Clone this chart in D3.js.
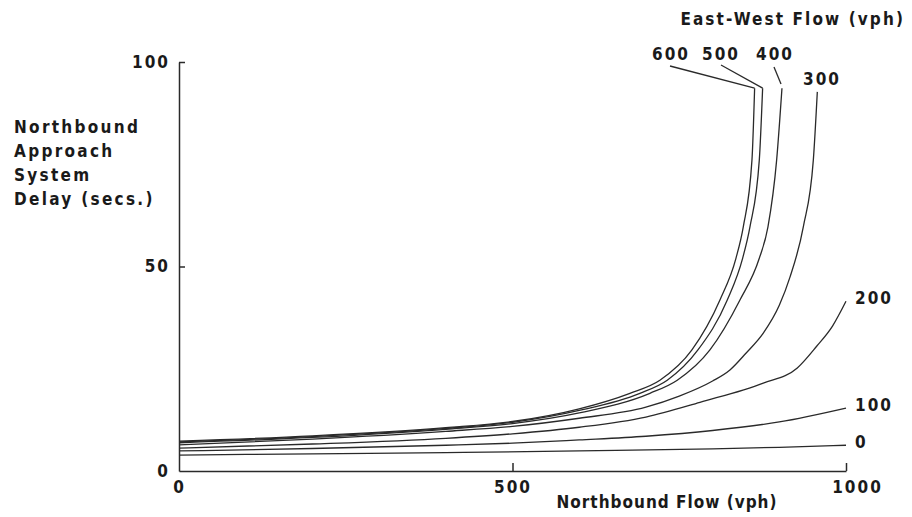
<!DOCTYPE html>
<html>
<head>
<meta charset="utf-8">
<script src="https://cdn.jsdelivr.net/npm/d3@7"></script>
<style>
  body { margin: 0; background: #fff; }
  text { font-family: "DejaVu Sans Condensed", "DejaVu Sans", sans-serif; font-weight: bold; fill: #1a1a1a; }
</style>
</head>
<body>
<svg id="chart" width="912" height="517"></svg>
<script>
// east-west flow series (vph) and their curves
let ewFlows = [0, 100, 200, 300, 400, 500, 600]

let nbFlow0 = [0, 200, 400, 600, 800, 900, 1000]
let delay0 = [3.9, 4.2, 4.5, 4.9, 5.4, 5.8, 6.3]

let nbFlow100 = [0, 200, 400, 500, 600, 700, 800, 900, 1000]
let delay100 = [4.9, 5.5, 6.3, 6.8, 7.6, 8.5, 9.9, 12.0, 15.4]

let nbFlow200 = [0, 200, 400, 500, 600, 700, 781, 876, 927, 956, 980, 1000]
let delay200 = [5.6, 6.6, 8.0, 9.1, 10.7, 13.2, 16.8, 21.5, 25.2, 30.5, 35.5, 41.5]

let nbFlow300 = [0, 200, 400, 500, 600, 700, 750, 800, 826, 850, 876, 900, 916, 936, 951, 957]
let delay300 = [6.4, 7.8, 9.7, 10.9, 12.9, 15.6, 18.3, 22.0, 24.7, 28.8, 33.7, 40.5, 47.4, 59.7, 76, 92.7]

let nbFlow400 = [0, 200, 400, 500, 600, 706, 747, 796, 841, 870, 883, 896, 904]
let delay400 = [6.9, 8.2, 10.2, 11.6, 14.2, 19, 22.2, 29.6, 41.8, 52, 59.7, 76, 93.6]

let nbFlow500 = [0, 200, 400, 500, 600, 691, 732, 778, 822, 845, 856, 870, 875]
let delay500 = [7.1, 8.4, 10.4, 11.9, 14.8, 19, 22.2, 29.6, 41.8, 52, 59.7, 76, 93.6]

let nbFlow600 = [0, 200, 400, 500, 600, 676, 721, 769, 811, 835, 846, 859, 863]
let delay600 = [7.3, 8.6, 10.6, 12.1, 15.2, 19, 22.2, 29.6, 41.8, 52, 59.7, 76, 93.6]

let xTicks = [0, 500, 1000]
let yTicks = [0, 50, 100]

let flows = [nbFlow0, nbFlow100, nbFlow200, nbFlow300, nbFlow400, nbFlow500, nbFlow600]
let delays = [delay0, delay100, delay200, delay300, delay400, delay500, delay600]

let svg = d3.select('#chart')

let x = d3.scaleLinear().domain([0, 1000]).range([179, 846])
let y = d3.scaleLinear().domain([0, 100]).range([471, 62])

let line = d3.line()
  .x(d => x(d[0]))
  .y(d => y(d[1]))
  .curve(d3.curveMonotoneX)

let series = ewFlows.map((ew, i) => ({
  ew: ew,
  points: flows[i].map((f, j) => [f, delays[i][j]])
}))

svg.selectAll('path.curve')
  .data(series)
  .enter().append('path')
  .attr('class', 'curve')
  .attr('d', s => line(s.points))
  .attr('fill', 'none')
  .attr('stroke', '#2a2a2a')
  .attr('stroke-width', 1.3)

// axes, ticks point inward like the original
let xAxis = svg.append('g')
  .attr('transform', 'translate(0,' + y(0) + ')')
  .call(d3.axisBottom(x).tickValues(xTicks).tickFormat(d3.format('d'))
    .tickSizeInner(-8).tickSizeOuter(0).tickPadding(10))
let yAxis = svg.append('g')
  .attr('transform', 'translate(' + x(0) + ',0)')
  .call(d3.axisLeft(y).tickValues(yTicks).tickFormat(d3.format('d'))
    .tickSizeInner(-6).tickSizeOuter(0).tickPadding(9))

for (let g of [xAxis, yAxis]) {
  g.attr('font-family', null).attr('font-size', null)
  g.selectAll('path, line').attr('stroke', '#2a2a2a').attr('stroke-width', 1.5)
  g.selectAll('text').attr('font-size', 17).attr('letter-spacing', 2).attr('fill', '#1a1a1a')
}
yAxis.selectAll('.tick').filter(d => d === 0).select('line').remove()
xAxis.selectAll('.tick').filter(d => d === 0).select('line').remove()
xAxis.selectAll('.tick').filter(d => d === 1000).select('text').attr('dx', 11)

// axis titles
svg.append('text')
  .attr('x', 667).attr('y', 508)
  .attr('text-anchor', 'middle')
  .attr('font-size', 17)
  .attr('letter-spacing', 1)
  .text('Northbound Flow (vph)')

svg.append('text')
  .attr('x', 905).attr('y', 25)
  .attr('text-anchor', 'end')
  .attr('font-size', 17)
  .attr('letter-spacing', 2.1)
  .text('East-West Flow (vph)')

let yTitle = ['Northbound', 'Approach', 'System', 'Delay (secs.)']
svg.selectAll('text.ytitle')
  .data(yTitle)
  .enter().append('text')
  .attr('class', 'ytitle')
  .attr('x', 14)
  .attr('y', (d, i) => 133 + i * 24)
  .attr('font-size', 17)
  .attr('letter-spacing', 2.3)
  .text(d => d)

// series labels: low flows at the right end, high flows at the top
let lastPoint = s => s.points[s.points.length - 1]
let rightLabels = series.filter(s => s.ew <= 200)
svg.selectAll('text.rlabel')
  .data(rightLabels)
  .enter().append('text')
  .attr('class', 'rlabel')
  .attr('x', s => x(lastPoint(s)[0]) + 9)
  .attr('y', s => y(lastPoint(s)[1]) + 3)
  .attr('font-size', 17)
  .attr('letter-spacing', 2)
  .text(s => s.ew)

let topLabel = {
  300: { tx: 822, ty: 85, lx: null },
  400: { tx: 775, ty: 60, lx: [774, 67, 781, 84] },
  500: { tx: 721, ty: 60, lx: [721, 65] },
  600: { tx: 671, ty: 60, lx: [670, 66] }
}
let topSeries = series.filter(s => s.ew >= 300)
svg.selectAll('text.tlabel')
  .data(topSeries)
  .enter().append('text')
  .attr('class', 'tlabel')
  .attr('x', s => topLabel[s.ew].tx)
  .attr('y', s => topLabel[s.ew].ty)
  .attr('text-anchor', 'middle')
  .attr('font-size', 17)
  .attr('letter-spacing', 2)
  .text(s => s.ew)

svg.selectAll('line.leader')
  .data(topSeries.filter(s => topLabel[s.ew].lx))
  .enter().append('line')
  .attr('class', 'leader')
  .attr('x1', s => topLabel[s.ew].lx[0])
  .attr('y1', s => topLabel[s.ew].lx[1])
  .attr('x2', s => topLabel[s.ew].lx.length > 2 ? topLabel[s.ew].lx[2] : x(lastPoint(s)[0]))
  .attr('y2', s => topLabel[s.ew].lx.length > 2 ? topLabel[s.ew].lx[3] : y(lastPoint(s)[1]))
  .attr('stroke', '#2a2a2a')
  .attr('stroke-width', 1.3)
</script>
</body>
</html>
